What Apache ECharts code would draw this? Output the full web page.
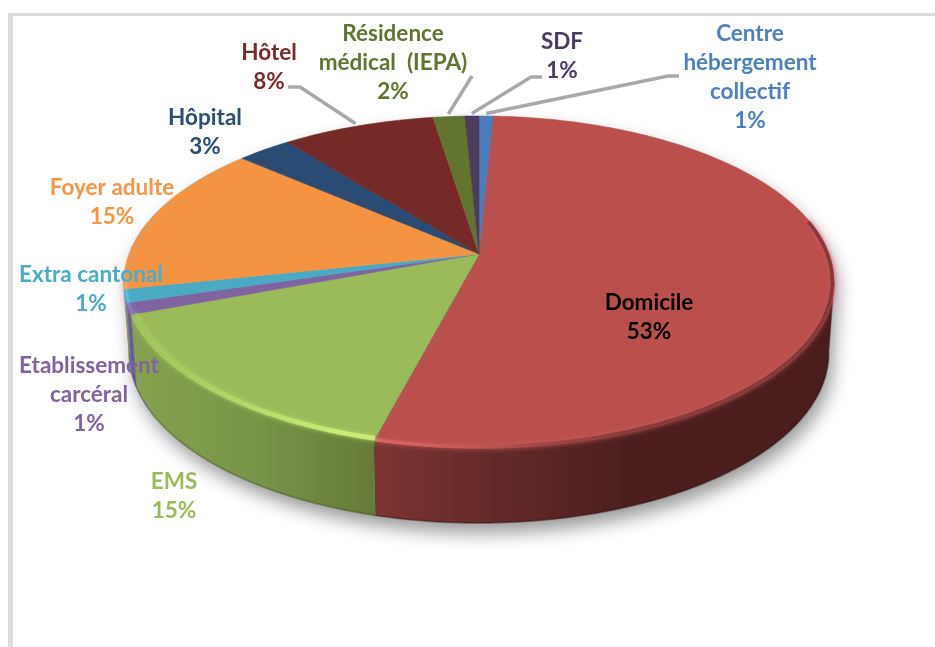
<!DOCTYPE html>
<html>
<head>
<meta charset="utf-8">
<style>html,body{margin:0;padding:0;background:#fff}#c{width:935px;height:647px}</style>
<script src="https://cdn.jsdelivr.net/npm/echarts@6/dist/echarts.min.js"></script>
</head>
<body>
<div id="c"></div>
<script>
// ---- data (clockwise from 12 o'clock) ----
const categories = ["Centre hébergement collectif","Domicile","EMS","Etablissement carcéral","Extra cantonal","Foyer adulte","Hôpital","Hôtel","Résidence médical  (IEPA)","SDF"];
const values = [0.75,53.3,15.2,1.1,1.3,14.8,2.9,8.2,1.7,0.75];
const labelLines = ["Centre\nhébergement\ncollectif","Domicile","EMS","Etablissement\ncarcéral","Extra cantonal","Foyer adulte","Hôpital","Hôtel","Résidence\nmédical  (IEPA)","SDF"];

// ---- styles and layout ----
const topColors = ["#4a7ebb","#bb4f4c","#9bba59","#8064a2","#4aa9c3","#f49443","#2a4b73","#752a28","#5f7530","#4d3b62"];
const textColors = ["#4f81bd","#000000","#9bbb59","#8064a2","#4bacc6","#f79646","#2c4d75","#772c2a","#5f7530","#4d3b62"];
const wallStops = [null,
  [[0,"#7c3432"],[0.28,"#622928"],[0.55,"#4c1f1e"],[1,"#4a1d1c"]],
  [[0,"#86a24e"],[0.5,"#789548"],[1,"#667b38"]],
  [[0,"#6f568c"],[1,"#6f568c"]],
  [[0,"#3f94ab"],[1,"#3f94ab"]],
  [[0,"#c97a38"],[1,"#c97a38"]],null,null,null,null];
const rimStops = [null,
  [[0,"#dc6664"],[0.2,"#c85a58"],[0.36,"#a04644"],[0.55,"#8a3c3a"],[1,"#84383a"]],
  [[0,"#a0c25c"],[0.45,"#b4d768"],[0.85,"#c9ee7a"],[1,"#c8e878"]],
  [[0,"#9277b8"],[1,"#9277b8"]],
  [[0,"#4fc0dc"],[1,"#4fc0dc"]],
  [[0,"#fba552"],[1,"#fba552"]],null,null,null,null];
const rimWidth = [0,3.5,4.5,3,3,3,0,0,0,0];
const rimRadius = [1,0.995,0.99,0.995,0.995,0.995,1,1,1,1];
// label anchor: centre x, centre y of the block
const labelPos = [[750,77],[649,317],[174,496],[89,395],[91,289],[112,202],[205,132],[269,67],[393,63],[562,56]];
// leader elbows, from label towards the slice
const leaderPos = {0:[[679,76],[668,76]],7:[[288,87],[300,87]],8:[[472,76]],9:[[542,77],[531,77]]};
const G = {cx:479, cy:254, a:350, b:161.3, k:0.1687, shrink:0.985, d0:70, d1:5, thFrom:99.7, thTo:260.3, rimStart:78};
const FONT = "Lato";

// ---- geometry ----
const total = values.reduce((s,v)=>s+v,0);
let acc = 0;
const slices = values.map(v=>{const s={from:acc/total*360,to:(acc+v)/total*360};acc+=v;return s;});
function proj(th,r){
  r = r===undefined?1:r;
  const t=th*Math.PI/180,u=r*Math.sin(t),v=-r*Math.cos(t),d=1-G.k*v;
  return [G.cx+G.a*u/d,G.cy+G.b*v/d];
}
function projBottom(th){
  const p=proj(th),v=-Math.cos(th*Math.PI/180);
  return [G.cx+(p[0]-G.cx)*G.shrink,p[1]+G.d0+G.d1*v];
}
function arc(fn,a,b,r){
  const n=Math.max(2,Math.ceil(Math.abs(b-a)/1)),pts=[];
  for(let i=0;i<=n;i++)pts.push(fn(a+(b-a)*i/n,r));
  return pts;
}
const hGrad=stops=>({type:'linear',x:0,y:0,x2:1,y2:0,colorStops:stops.map(s=>({offset:s[0],color:s[1]}))});

const seriesData = values.map((v,i)=>({name:categories[i],value:v}));

const option = {
  animation:false,
  backgroundColor:'#ffffff',
  graphic:[
    {type:'rect',silent:true,shape:{x:8,y:13,width:927,height:3},style:{fill:'#dcdcdc'}},
    {type:'rect',silent:true,shape:{x:8,y:13,width:5,height:634},style:{fill:'#dcdcdc'}}
  ],
  series:[
    { // soft shadow under the pie
      type:'custom',coordinateSystem:'none',silent:true,z:1,data:[[1]],
      renderItem(){
        const pts=arc(projBottom,G.thFrom,G.thTo).concat(arc(proj,G.thTo,360)).concat(arc(proj,0,G.thFrom));
        return {type:'polygon',shape:{points:pts},style:{fill:'#ddd',shadowColor:'rgba(0,0,0,0.4)',shadowBlur:18,shadowOffsetX:4,shadowOffsetY:10}};
      }
    },
    { // side wall
      type:'custom',coordinateSystem:'none',silent:true,z:2,data:seriesData,
      renderItem(p){
        const s=slices[p.dataIndex],a=Math.max(s.from,G.thFrom),b=Math.min(s.to,G.thTo);
        if(b<=a||!wallStops[p.dataIndex])return {type:'group',children:[]};
        const bottom=arc(projBottom,a,b);
        return {type:'group',children:[
          {type:'polygon',shape:{points:arc(proj,a,b).concat(bottom.slice().reverse())},style:{fill:hGrad(wallStops[p.dataIndex]),stroke:wallStops[p.dataIndex][wallStops[p.dataIndex].length-1][1],lineWidth:0.5}},
          {type:'polyline',shape:{points:bottom},style:{fill:null,stroke:'rgba(0,0,0,0.18)',lineWidth:2}}
        ]};
      }
    },
    { // top face
      type:'custom',coordinateSystem:'none',silent:true,z:3,data:seriesData,
      renderItem(p){
        const s=slices[p.dataIndex],c=topColors[p.dataIndex];
        return {type:'polygon',shape:{points:[[G.cx,G.cy]].concat(arc(proj,s.from,s.to))},style:{fill:c,stroke:c,lineWidth:0.6}};
      }
    },
    { // bevel highlight on the front rim
      type:'custom',coordinateSystem:'none',silent:true,z:4,data:seriesData,
      renderItem(p){
        const i=p.dataIndex,s=slices[i],a=Math.max(s.from,G.rimStart),b=Math.min(s.to,G.thTo+1);
        if(b<=a||!rimStops[i])return {type:'group',children:[]};
        return {type:'polyline',shape:{points:arc(proj,a,b,rimRadius[i])},style:{fill:null,stroke:hGrad(rimStops[i]),lineWidth:rimWidth[i],shadowColor:rimStops[i][1][1],shadowBlur:5}};
      }
    },
    { // leader lines
      type:'custom',coordinateSystem:'none',silent:true,z:5,data:seriesData,
      renderItem(p){
        const e=leaderPos[p.dataIndex];
        if(!e)return {type:'group',children:[]};
        const s=slices[p.dataIndex],end=proj((s.from+s.to)/2,1.022);
        return {type:'polyline',shape:{points:e.concat([end])},style:{fill:null,stroke:'#a8a8a8',lineWidth:3.5}};
      }
    },
    { // labels
      type:'custom',coordinateSystem:'none',silent:true,z:6,data:seriesData,
      renderItem(p){
        const i=p.dataIndex,pct=Math.round(values[i]/total*100);
        return {type:'text',style:{text:labelLines[i]+"\n"+pct+"%",x:labelPos[i][0],y:labelPos[i][1],
          fill:textColors[i],fontFamily:FONT,fontWeight:'bold',fontSize:22.5,lineHeight:29,align:'center',verticalAlign:'middle'}};
      }
    }
  ]
};
echarts.init(document.getElementById('c'),null,{renderer:'canvas'}).setOption(option);
</script>
</body>
</html>
